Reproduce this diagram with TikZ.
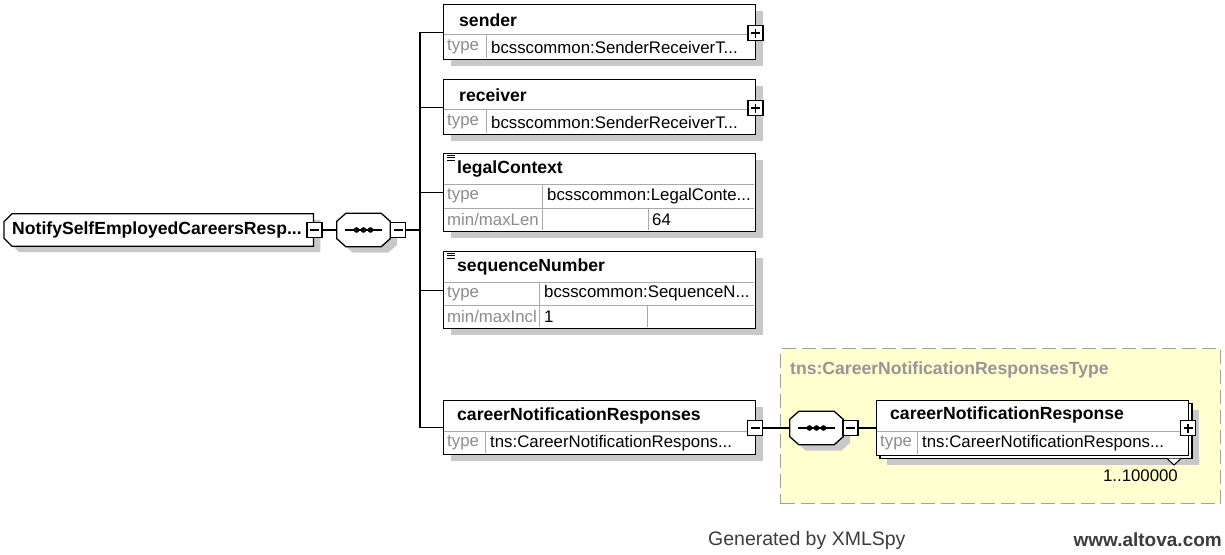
\documentclass[tikz,border=0pt]{standalone}
\usepackage{fontspec}
\setmainfont{Liberation Sans}
\usetikzlibrary{shadows,backgrounds}
\definecolor{shadowgray}{RGB}{200,200,200}
\definecolor{labelgray}{RGB}{140,140,140}
\definecolor{gridgray}{RGB}{170,170,170}
\definecolor{typeyellow}{RGB}{255,255,208}
\definecolor{typeborder}{RGB}{160,160,160}
\definecolor{typetext}{RGB}{150,150,150}
\definecolor{footgray}{RGB}{60,60,60}
\begin{document}
\begin{tikzpicture}[x=1pt, y=-1pt,
    wire/.style={line width=1.3pt},
    elemshadow/.style={drop shadow={shadow xshift=7pt, shadow yshift=-6pt, fill=shadowgray, opacity=1}},
    elem/.style={draw, fill=white, line width=1.3pt, anchor=north west, minimum width=312pt, inner sep=0pt},
    grid/.style={draw=gridgray, line width=1pt},
    title/.style={anchor=west, inner sep=0pt, font=\bfseries\fontsize{17.6}{20}\selectfont},
    lbl/.style={anchor=west, inner sep=0pt, text=labelgray, font=\fontsize{16.8}{20}\selectfont},
    val/.style={anchor=west, inner sep=0pt, font=\fontsize{16.8}{20}\selectfont},
    seqbox/.style={minimum width=53pt, minimum height=33pt, inner sep=0pt},
    toggle/.style={draw, fill=white, line width=1.1pt, minimum size=15pt, inner sep=0pt},
    minus/.style={toggle, path picture={\draw[line width=1.1pt] ([xshift=3pt]path picture bounding box.west) -- ([xshift=-3pt]path picture bounding box.east);}},
    plus/.style={toggle, path picture={\draw[line width=1.1pt] ([xshift=3pt]path picture bounding box.west) -- ([xshift=-3pt]path picture bounding box.east) ([yshift=-3pt]path picture bounding box.north) -- ([yshift=3pt]path picture bounding box.south);}},
    typeframe/.style={draw=typeborder, fill=typeyellow, line width=1.3pt, dash pattern=on 14pt off 6pt, anchor=north west, inner sep=0pt}]
    \useasboundingbox (0,0) rectangle (1225,554);

    \node[anchor=west, text width=293pt, align=left, inner xsep=8pt, inner ysep=0pt, minimum height=32pt,
          font=\bfseries\fontsize{17.6}{20}\selectfont] (root) at (4,230) {NotifySelfEmployedCareersResp...};
    \node[seqbox] (seq1) at (363.5,230) {};
    \node[seqbox] (seq2) at (816.5,428) {};

    \begin{scope}[on background layer]
        \node[typeframe, minimum width=440pt, minimum height=155pt] (crtype) at (780,348) {};
        \draw[wire, fill=white, elemshadow] ([xshift=8pt]root.north west) -- (root.north east) -- (root.south east)
            -- ([xshift=8pt]root.south west) -- ([yshift=8pt]root.south west) -- ([yshift=-8pt]root.north west) -- cycle;
        \foreach \c in {seq1, seq2}
            \draw[wire, fill=white, elemshadow] ([xshift=9pt]\c.north west) -- ([xshift=-9pt]\c.north east)
                -- ([yshift=-8pt]\c.north east) -- ([yshift=8pt]\c.south east) -- ([xshift=-9pt]\c.south east)
                -- ([xshift=9pt]\c.south west) -- ([yshift=8pt]\c.south west) -- ([yshift=-8pt]\c.north west) -- cycle;
    \end{scope}
    \foreach \c in {seq1, seq2}{
        \draw[wire] ([xshift=8pt]\c.west) -- ([xshift=-8pt]\c.east);
        \foreach \d in {-7,0,7}
            \fill ([xshift=\d pt]\c.center) circle[radius=2.8pt];
    }

    \foreach \n/\top in {sender/4, receiver/79}{
        \node[elem, elemshadow, minimum height=55pt] (\n) at (443,\top) {};
        \draw[grid] (444,\top+30) -- (754,\top+30) (486,\top+30) -- (486,\top+54);
        \node[title] (\n-name) at (459,\top+16) {\n};
        \node[lbl] (\n-type) at (447,\top+43) {type};
        \node[val] (\n-value) at (491,\top+43) {bcsscommon:SenderReceiverT...};
    }

    \node[elem, elemshadow, minimum height=78pt] (legal) at (443,153) {};
    \draw[grid] (444,184) -- (754,184) (444,208) -- (754,208) (542,184) -- (542,230) (648,208) -- (648,230);
    \draw[line width=0.8pt] (447,155) -- (455,155) (447,157.5) -- (455,157.5) (447,160) -- (455,160);
    \node[title] (legal-name) at (457,169) {legalContext};
    \node[lbl] (legal-type) at (447,196) {type};
    \node[val] (legal-value) at (547,196) {bcsscommon:LegalConte...};
    \node[lbl] (legal-len) at (447,219.5) {min/maxLen};
    \node[val] (legal-max) at (652,219.5) {64};

    \node[elem, elemshadow, minimum height=77pt] (seqnum) at (443,251) {};
    \draw[grid] (444,282) -- (754,282) (444,305) -- (754,305) (539,282) -- (539,327) (647,305) -- (647,327);
    \draw[line width=0.8pt] (447,253) -- (455,253) (447,255.5) -- (455,255.5) (447,258) -- (455,258);
    \node[title] (seqnum-name) at (457,267) {sequenceNumber};
    \node[lbl] (seqnum-type) at (447,293.5) {type};
    \node[val] (seqnum-value) at (544,293.5) {bcsscommon:SequenceN...};
    \node[lbl] (seqnum-incl) at (447,316.5) {min/maxIncl};
    \node[val] (seqnum-min) at (544,316.5) {1};

    \node[elem, elemshadow, minimum height=54pt] (career) at (443,400) {};
    \draw[grid] (444,431) -- (754,431) (485,431) -- (485,453);
    \node[title] (career-name) at (457,416) {careerNotificationResponses};
    \node[lbl] (career-type) at (447,443) {type};
    \node[val] (career-value) at (490,443) {tns:CareerNotificationRespons...};

    \node[anchor=west, inner sep=0pt, text=typetext, font=\bfseries\fontsize{17.6}{20}\selectfont] (crtype-name) at (790,370) {tns:CareerNotificationResponsesType};

    \draw[line width=1.3pt, fill=white, elemshadow] (880,403.5) rectangle (1192,458.5);
    \node[elem, minimum height=55pt] (cnr) at (876,400) {};
    \draw[grid] (877,431) -- (1187,431) (917,431) -- (917,454);
    \node[title] (cnr-name) at (890,415) {careerNotificationResponse};
    \node[lbl] (cnr-type) at (880,443) {type};
    \node[val] (cnr-value) at (922,443) {tns:CareerNotificationRespons...};
    \draw[line width=1pt, fill=white] (1167,458.5) -- (1174,465) -- (1181,458.5);
    \node[val, anchor=east] (cnr-occurs) at (1178,476) {1..100000};

    \node[minus] (rootminus) at (314.5,230) {};
    \node[minus] (seq1minus) at (398,230) {};
    \coordinate (bus) at (420,230);
    \draw[wire] (rootminus) -- (seq1);
    \draw[wire] (seq1minus) -- (bus);
    \draw[wire] (sender.west) -| (bus) |- (career.west);
    \foreach \n in {receiver, legal, seqnum}
        \draw[wire] (\n.west) -- (\n.west -| bus);
    \node[minus] (careerminus) at (755,428) {};
    \node[minus] (seq2minus) at (850.5,428) {};
    \draw[wire] (careerminus) -- (seq2);
    \draw[wire] (seq2minus.east) -- (seq2minus.east -| cnr.west);

    \node[plus] (senderplus) at (755.5,33) {};
    \node[plus] (receiverplus) at (755.5,108) {};
    \node[plus] (cnrplus) at (1188,428) {};

    \node[anchor=west, inner sep=0pt, text=footgray, font=\fontsize{19.5}{22}\selectfont] (generated) at (708,540) {Generated by XMLSpy};
    \node[anchor=east, inner sep=0pt, text=footgray, font=\bfseries\fontsize{19}{22}\selectfont] (altova) at (1222,540) {www.altova.com};
\end{tikzpicture}
\end{document}
